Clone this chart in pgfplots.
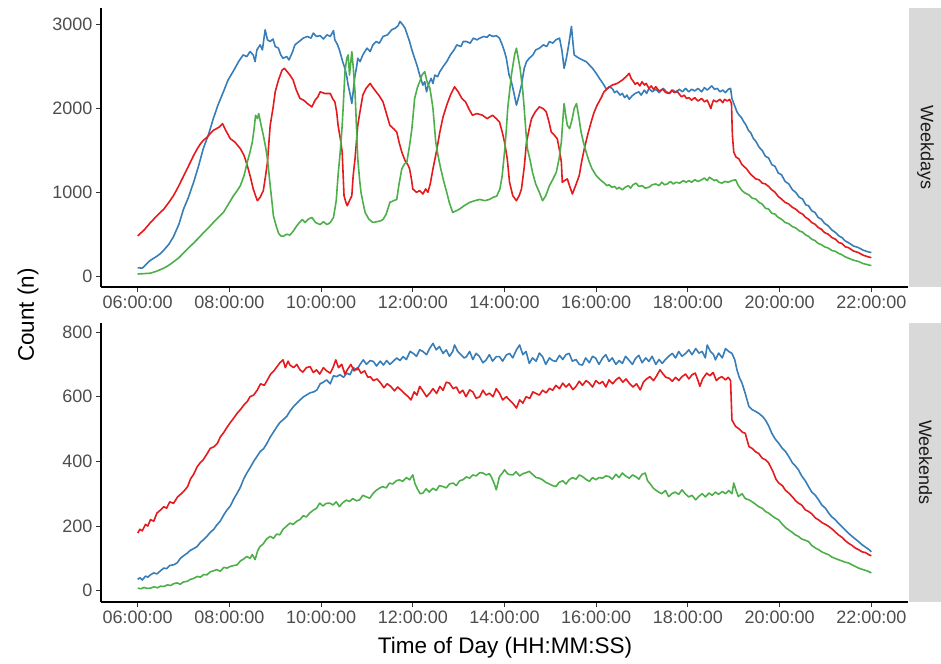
\documentclass[border=0pt]{standalone}
\usepackage{pgfplots}
\pgfplotsset{compat=1.18}
\usepackage{fontspec}
\setmainfont{Liberation Sans}
\definecolor{cred}{HTML}{E41A1C}
\definecolor{cblue}{HTML}{377EB8}
\definecolor{cgreen}{HTML}{4DAF4A}
\definecolor{tickgray}{HTML}{4D4D4D}
\definecolor{stripgray}{HTML}{D9D9D9}
\definecolor{striptext}{HTML}{1A1A1A}
\pgfplotsset{
  panel/.style={
    scale only axis, width=807pt, height=279pt,
    xmin=5.2, xmax=22.8,
    axis x line*=bottom, axis y line*=left,
    axis line style={black, line width=1.1pt},
    every tick/.style={draw=black!80, line width=1pt},
    tick align=outside, major tick length=5pt,
    xtick={6,8,...,22},
    xticklabels={06:00:00,08:00:00,10:00:00,12:00:00,14:00:00,16:00:00,18:00:00,20:00:00,22:00:00},
    ticklabel style={font=\fontsize{18}{18}\selectfont, text=tickgray},
    clip=false,
    every axis plot/.append style={line width=1.6pt, line join=round},
  }
}
\begin{document}
\begin{tikzpicture}[x=1pt,y=1pt]
\path[use as bounding box] (0,0) rectangle (941,-663);
% ---------------- Weekdays ----------------
\begin{axis}[panel, at={(101pt,-287pt)}, anchor=south west,
  ymin=-130, ymax=3200, ytick={0,1000,2000,3000}, yticklabels={0,1000,2000,3000}]
\fill[stripgray] ([xshift=1pt]rel axis cs:1,0) rectangle ([xshift=34pt]rel axis cs:1,1);
\node[rotate=-90, text=striptext, font=\fontsize{18}{18}\selectfont] at ([xshift=17.5pt]rel axis cs:1,0.5) {Weekdays};
\addplot[cblue] coordinates {
(6.00,100) (6.10,95) (6.20,150) (6.28,190) (6.40,230) (6.50,270) (6.57,310) (6.68,380) (6.78,470) (6.90,620)
(7.00,800) (7.10,930) (7.22,1120) (7.32,1300) (7.43,1520) (7.55,1700) (7.65,1880) (7.75,2040) (7.87,2200) (7.97,2340)
(8.09,2450) (8.20,2560) (8.30,2640) (8.38,2620) (8.45,2680) (8.52,2640) (8.56,2560) (8.60,2700) (8.67,2760) (8.72,2700)
(8.78,2940) (8.83,2820) (8.89,2800) (8.95,2830) (9.00,2740) (9.07,2720) (9.12,2640) (9.17,2600) (9.25,2620) (9.30,2580)
(9.38,2680) (9.43,2760) (9.52,2800) (9.61,2840) (9.70,2860) (9.78,2840) (9.83,2900) (9.90,2860) (9.98,2870) (10.05,2830)
(10.13,2880) (10.20,2860) (10.27,2930) (10.30,2820) (10.36,2760) (10.41,2680) (10.47,2560) (10.52,2480) (10.56,2380) (10.59,2280)
(10.63,2180) (10.67,2060) (10.70,2200) (10.74,2400) (10.77,2480) (10.80,2600) (10.85,2560) (10.91,2640) (11.00,2720) (11.07,2680)
(11.13,2760) (11.20,2800) (11.27,2780) (11.35,2860) (11.45,2880) (11.54,2940) (11.62,2960) (11.68,2990) (11.72,3040) (11.78,3000)
(11.83,2960) (11.88,2880) (11.93,2800) (11.98,2700) (12.04,2600) (12.10,2500) (12.15,2400) (12.22,2280) (12.26,2320) (12.30,2200)
(12.35,2300) (12.40,2360) (12.44,2300) (12.48,2400) (12.54,2380) (12.59,2440) (12.66,2500) (12.74,2560) (12.82,2640) (12.90,2700)
(12.96,2760) (13.05,2740) (13.10,2800) (13.17,2800) (13.25,2780) (13.32,2840) (13.40,2820) (13.46,2840) (13.55,2860) (13.62,2850)
(13.67,2880) (13.75,2860) (13.82,2870) (13.89,2840) (13.95,2760) (14.00,2680) (14.04,2600) (14.10,2400) (14.15,2320) (14.20,2200)
(14.26,2040) (14.30,2120) (14.37,2280) (14.43,2480) (14.48,2560) (14.54,2600) (14.62,2640) (14.68,2700) (14.76,2720) (14.85,2760)
(14.92,2740) (14.98,2800) (15.05,2780) (15.12,2820) (15.20,2840) (15.25,2700) (15.30,2480) (15.35,2600) (15.40,2760) (15.46,2980)
(15.49,2800) (15.52,2640) (15.57,2620) (15.63,2600) (15.70,2580) (15.78,2560) (15.85,2520) (15.92,2480) (16.00,2420) (16.07,2360)
(16.17,2280) (16.22,2230) (16.28,2260) (16.35,2240) (16.40,2190) (16.45,2210) (16.52,2160) (16.57,2180) (16.62,2130) (16.67,2160)
(16.72,2110) (16.78,2150) (16.85,2180) (16.93,2200) (16.98,2160) (17.05,2220) (17.10,2180) (17.15,2240) (17.22,2200) (17.30,2230)
(17.37,2190) (17.46,2240) (17.53,2200) (17.60,2180) (17.67,2220) (17.74,2190) (17.81,2230) (17.88,2200) (17.95,2240) (18.02,2200)
(18.08,2230) (18.15,2210) (18.22,2240) (18.30,2200) (18.36,2250) (18.42,2220) (18.48,2250) (18.52,2270) (18.58,2230) (18.64,2240)
(18.70,2200) (18.76,2220) (18.82,2190) (18.88,2230) (18.93,2240) (18.96,2120)
(19.07,1960) (19.12,1920) (19.17,1890) (19.22,1840) (19.26,1810) (19.32,1740) (19.37,1710) (19.43,1640) (19.48,1610) (19.55,1540)
(19.62,1500) (19.69,1430) (19.76,1410) (19.83,1330) (19.90,1310) (19.97,1230) (20.04,1210) (20.12,1130) (20.20,1100) (20.28,1030)
(20.35,1000) (20.43,940) (20.50,920) (20.57,850) (20.63,840) (20.70,780) (20.77,760) (20.84,700) (20.91,680) (20.98,630)
(21.06,600) (21.14,550) (21.22,520) (21.29,480) (21.36,460) (21.43,420) (21.50,400) (21.61,360) (21.72,340) (21.82,310)
(21.93,290) (22.00,280)
};
\addplot[cred] coordinates {
(6.00,480) (6.14,550) (6.28,640) (6.42,720) (6.57,800) (6.68,880) (6.78,960) (6.88,1060) (6.97,1160) (7.06,1260)
(7.15,1360) (7.22,1440) (7.30,1520) (7.37,1580) (7.43,1620) (7.52,1660) (7.58,1700) (7.65,1740) (7.72,1760) (7.78,1780)
(7.85,1820) (7.92,1740) (8.02,1640) (8.12,1600) (8.24,1520) (8.32,1440) (8.39,1320) (8.46,1180) (8.52,1040) (8.57,960)
(8.61,900) (8.67,940) (8.74,1020) (8.79,1200) (8.83,1360) (8.86,1580) (8.89,1800) (8.95,2000) (9.00,2200) (9.07,2340)
(9.15,2460) (9.20,2480) (9.26,2440) (9.32,2400) (9.39,2340) (9.46,2220) (9.54,2120) (9.62,2100) (9.70,2060) (9.80,2020)
(9.87,2100) (9.93,2140) (9.98,2200) (10.08,2180) (10.20,2180) (10.25,2120) (10.30,2080) (10.34,1960) (10.37,1800) (10.42,1640)
(10.46,1480) (10.50,960) (10.54,880) (10.57,840) (10.62,900) (10.67,960) (10.70,1200) (10.74,1400) (10.77,1600) (10.80,1800)
(10.86,2000) (10.91,2160) (10.98,2240) (11.07,2300) (11.13,2250) (11.20,2200) (11.27,2150) (11.35,2080) (11.42,1950) (11.50,1800)
(11.58,1760) (11.65,1720) (11.70,1600) (11.76,1480) (11.83,1380) (11.90,1320) (11.93,1280) (11.97,1160) (12.00,1040) (12.08,1000)
(12.15,1020) (12.22,980) (12.28,1040) (12.33,1000) (12.38,1100) (12.44,1280) (12.52,1500) (12.59,1720) (12.66,1900) (12.74,2040)
(12.82,2160) (12.91,2260) (12.99,2200) (13.07,2120) (13.15,2080) (13.22,2000) (13.30,1920) (13.40,1940) (13.52,1920) (13.62,1880)
(13.74,1920) (13.82,1880) (13.89,1840) (13.95,1720) (14.00,1600) (14.06,1400) (14.11,1120) (14.18,960) (14.26,900) (14.32,960)
(14.37,1040) (14.43,1300) (14.48,1600) (14.54,1760) (14.59,1880) (14.67,1960) (14.76,2020) (14.84,2000) (14.91,1960) (14.97,1840)
(15.02,1720) (15.09,1680) (15.15,1640) (15.20,1500) (15.24,1360) (15.26,1120) (15.31,1140) (15.37,1160) (15.43,1060) (15.48,980)
(15.55,1080) (15.63,1200) (15.68,1360) (15.74,1520) (15.82,1700) (15.89,1840) (15.95,1950) (16.02,2040) (16.10,2120) (16.17,2200)
(16.27,2250) (16.35,2280) (16.46,2300) (16.57,2340) (16.65,2380)
(16.72,2420) (16.76,2360) (16.80,2330) (16.85,2290) (16.90,2310) (16.95,2270) (17.00,2320) (17.05,2280) (17.09,2300) (17.15,2240)
(17.20,2270) (17.25,2230) (17.30,2260) (17.37,2210) (17.45,2230) (17.52,2190) (17.59,2180) (17.65,2220) (17.70,2190) (17.76,2210)
(17.80,2180) (17.86,2140) (17.92,2160) (17.97,2120) (18.02,2130) (18.08,2100) (18.15,2130) (18.22,2090) (18.30,2120) (18.36,2080)
(18.42,2100) (18.47,2040) (18.50,2000) (18.53,2060) (18.56,2100) (18.62,2080) (18.70,2110) (18.76,2070) (18.80,2110) (18.86,2090)
(18.91,2110) (18.95,2060) (18.97,1680)
(19.00,1480) (19.05,1420) (19.11,1400) (19.18,1330) (19.28,1280) (19.36,1220) (19.48,1160) (19.55,1150) (19.62,1110) (19.69,1100)
(19.76,1070) (19.83,1030) (19.90,1000) (19.97,950) (20.04,920) (20.12,880) (20.20,860) (20.28,820) (20.35,800) (20.43,760)
(20.50,740) (20.57,700) (20.63,680) (20.70,640) (20.77,620) (20.84,580) (20.91,560) (20.98,520) (21.06,500) (21.14,460)
(21.22,440) (21.29,400) (21.36,390) (21.43,350) (21.50,340) (21.61,300) (21.72,280) (21.82,250) (21.93,230) (22.00,220)
};
\addplot[cgreen] coordinates {
(6.00,25) (6.14,30) (6.28,35) (6.42,60) (6.57,95) (6.68,130) (6.78,170) (6.90,220) (7.00,275) (7.10,330)
(7.22,395) (7.32,450) (7.43,515) (7.55,580) (7.65,640) (7.76,700) (7.87,760) (7.98,860) (8.09,960) (8.17,1020)
(8.24,1080) (8.32,1200) (8.39,1360) (8.45,1480) (8.50,1600) (8.54,1760) (8.57,1920) (8.61,1880) (8.64,1940) (8.67,1860)
(8.70,1780) (8.74,1680) (8.79,1540) (8.83,1400) (8.86,1240) (8.89,1080) (8.93,880) (8.96,720) (9.02,600) (9.07,515)
(9.12,480) (9.17,475) (9.25,500) (9.32,490) (9.39,535) (9.47,600) (9.53,640) (9.59,675) (9.65,640) (9.72,680)
(9.80,700) (9.88,640) (9.98,615) (10.05,650) (10.13,615) (10.20,640) (10.27,700) (10.33,900) (10.37,1200) (10.42,1500)
(10.46,1800) (10.49,2100) (10.52,2440) (10.56,2600) (10.59,2640) (10.62,2400) (10.67,2680) (10.70,2500) (10.74,2200) (10.77,1800)
(10.80,1400) (10.84,1150) (10.87,1000) (10.92,860) (10.96,760) (11.04,680) (11.13,640) (11.22,650) (11.30,660) (11.35,675)
(11.42,740) (11.50,880) (11.58,900) (11.65,915) (11.70,1100) (11.76,1280) (11.82,1340) (11.87,1360) (11.93,1560) (11.98,1760)
(12.04,2120) (12.10,2250) (12.15,2320) (12.20,2400) (12.26,2440) (12.32,2300) (12.37,2250) (12.40,2150) (12.44,2000) (12.47,1800)
(12.50,1600) (12.55,1440) (12.61,1280) (12.68,1120) (12.74,1000) (12.80,870) (12.87,760) (12.95,780) (13.02,800) (13.12,840)
(13.24,880) (13.35,900) (13.46,915) (13.57,900) (13.67,915) (13.75,940) (13.83,955) (13.90,1040) (13.95,1200) (14.00,1480)
(14.04,1750) (14.07,2000) (14.11,2200) (14.15,2400) (14.22,2640) (14.26,2720) (14.30,2600) (14.34,2480) (14.40,2200) (14.43,2000)
(14.47,1700) (14.50,1520) (14.56,1380) (14.61,1240) (14.68,1100) (14.76,1000) (14.83,900) (14.90,960) (14.98,1080) (15.05,1150)
(15.13,1240) (15.19,1400) (15.24,1600) (15.27,1850) (15.30,2060) (15.34,1900) (15.37,1800) (15.42,1760) (15.47,1860) (15.52,2000)
(15.57,2060) (15.62,1900) (15.67,1720) (15.72,1600) (15.78,1480) (15.85,1360) (15.91,1280)
(16.00,1200) (16.07,1160) (16.13,1130) (16.18,1110) (16.23,1080) (16.28,1090) (16.34,1060) (16.40,1070) (16.45,1040) (16.50,1060)
(16.57,1030) (16.63,1060) (16.70,1080) (16.75,1050) (16.80,1090) (16.87,1110) (16.93,1070) (17.00,1080) (17.07,1050) (17.15,1060)
(17.22,1090) (17.30,1100) (17.37,1080) (17.43,1120) (17.49,1090) (17.55,1100) (17.62,1130) (17.68,1100) (17.74,1120) (17.82,1110)
(17.90,1140) (17.96,1120) (18.02,1140) (18.08,1120) (18.15,1150) (18.22,1130) (18.30,1150) (18.36,1170) (18.42,1140) (18.47,1180)
(18.52,1160) (18.58,1140) (18.62,1150) (18.68,1120) (18.74,1110) (18.81,1130) (18.88,1120) (18.96,1140) (19.04,1150)
(19.10,1080) (19.18,1020) (19.25,990) (19.33,970) (19.40,930) (19.48,920) (19.55,880) (19.62,860) (19.69,810) (19.76,800)
(19.83,750) (19.90,740) (19.97,700) (20.04,680) (20.12,640) (20.20,625) (20.28,590) (20.35,575) (20.43,540) (20.50,525)
(20.57,490) (20.63,475) (20.70,440) (20.77,425) (20.84,390) (20.91,375) (20.98,350) (21.06,335) (21.14,305) (21.22,295)
(21.29,270) (21.36,255) (21.43,230) (21.50,215) (21.61,190) (21.72,175) (21.82,150) (21.93,135) (22.00,125)
};
\end{axis}
% ---------------- Weekends ----------------
\begin{axis}[panel, at={(101pt,-602pt)}, anchor=south west,
  ymin=-35, ymax=828, ytick={0,200,400,600,800}, yticklabels={0,200,400,600,800}]
\fill[stripgray] ([xshift=1pt]rel axis cs:1,0) rectangle ([xshift=34pt]rel axis cs:1,1);
\node[rotate=-90, text=striptext, font=\fontsize{18}{18}\selectfont] at ([xshift=17.5pt]rel axis cs:1,0.5) {Weekends};
\addplot[cblue] coordinates {
(6.00,35) (6.05,40) (6.10,33) (6.17,45) (6.22,42) (6.28,49) (6.35,55) (6.42,52) (6.50,62) (6.57,70)
(6.63,68) (6.70,78) (6.78,80) (6.86,86) (6.93,100) (7.00,108) (7.08,116) (7.15,125) (7.22,130) (7.30,137)
(7.37,150) (7.44,158) (7.51,168) (7.58,180) (7.66,190) (7.73,204) (7.80,215) (7.88,235) (7.95,250) (8.02,262)
(8.10,285) (8.17,302) (8.24,320) (8.31,345) (8.38,364) (8.45,380) (8.53,400) (8.60,415) (8.67,430) (8.75,440)
(8.82,456) (8.89,475) (8.96,490) (9.04,508) (9.10,520) (9.18,530) (9.25,539) (9.32,555) (9.40,570) (9.47,580)
(9.54,590) (9.62,600) (9.69,606) (9.76,612) (9.84,615) (9.91,621) (9.98,640) (10.05,645) (10.12,652) (10.20,640)
(10.27,665) (10.34,662) (10.41,668) (10.49,660) (10.56,673) (10.63,668) (10.70,690) (10.78,683) (10.85,700) (10.92,714)
(10.99,700) (11.07,712) (11.14,709) (11.21,695) (11.29,710) (11.36,698) (11.43,712) (11.50,700) (11.57,709) (11.65,720)
(11.72,712) (11.79,724) (11.86,715) (11.94,740) (12.01,734) (12.08,725) (12.15,745) (12.22,740) (12.30,730) (12.37,750)
(12.44,765) (12.51,745) (12.58,755) (12.66,734) (12.73,745) (12.80,725) (12.87,740) (12.91,760) (12.98,740) (13.05,730)
(13.12,720) (13.17,724) (13.24,740) (13.31,715) (13.38,734) (13.45,725) (13.53,705) (13.60,714) (13.67,730) (13.74,710)
(13.82,724) (13.89,724) (13.96,710) (14.04,729) (14.11,734) (14.18,720) (14.26,745) (14.33,760) (14.40,730) (14.47,740)
(14.54,703) (14.61,720) (14.69,710) (14.76,735) (14.83,724) (14.90,700) (14.98,720) (15.05,712) (15.12,709) (15.20,728)
(15.27,715) (15.34,730) (15.41,734) (15.48,710) (15.56,715) (15.63,700) (15.70,698) (15.77,720) (15.85,705) (15.92,725)
(15.99,719) (16.06,700) (16.14,720) (16.21,730) (16.28,709) (16.35,720) (16.43,700) (16.50,712) (16.57,703) (16.64,725)
(16.72,712) (16.79,700) (16.86,719) (16.93,728) (17.00,705) (17.08,720) (17.15,709) (17.22,725) (17.30,700) (17.37,715)
(17.44,703) (17.51,715) (17.58,725) (17.66,734) (17.73,720) (17.80,740) (17.87,725) (17.95,734) (18.02,745) (18.09,730)
(18.17,749) (18.24,735) (18.31,740) (18.38,720) (18.42,760) (18.49,740) (18.56,730) (18.60,714) (18.67,735) (18.75,720)
(18.82,749) (18.89,740) (18.96,734) (19.02,715) (19.07,683) (19.12,660) (19.18,642) (19.25,610) (19.33,570) (19.40,560)
(19.47,555) (19.54,549) (19.62,540) (19.69,528) (19.76,510) (19.83,487) (19.90,470) (19.98,456) (20.06,440) (20.13,430)
(20.20,415) (20.28,395) (20.35,385) (20.41,374) (20.48,355) (20.56,340) (20.63,322) (20.70,305) (20.78,295) (20.85,281)
(20.92,265) (21.00,255) (21.07,240) (21.14,228) (21.21,220) (21.28,209) (21.36,198) (21.43,188) (21.50,178) (21.58,168)
(21.65,160) (21.72,152) (21.80,142) (21.87,135) (21.95,127) (22.00,120)
};
\addplot[cred] coordinates {
(6.00,178) (6.05,190) (6.10,185) (6.17,205) (6.22,200) (6.28,220) (6.35,215) (6.42,240) (6.50,250) (6.57,260)
(6.63,255) (6.70,275) (6.78,270) (6.87,290) (6.95,300) (7.02,310) (7.09,322) (7.15,345) (7.22,360) (7.30,384)
(7.36,395) (7.43,405) (7.52,425) (7.58,440) (7.66,445) (7.74,456) (7.80,475) (7.88,490) (7.96,508) (8.02,520)
(8.10,535) (8.17,549) (8.24,560) (8.32,575) (8.39,585) (8.45,600) (8.53,605) (8.61,621) (8.68,640) (8.76,635)
(8.83,652) (8.90,670) (8.97,680) (9.04,693) (9.10,705) (9.17,714) (9.22,690) (9.28,710) (9.32,698) (9.40,690)
(9.47,700) (9.54,683) (9.60,676) (9.68,690) (9.76,693) (9.83,675) (9.90,683) (9.97,670) (10.05,690) (10.12,680)
(10.20,673) (10.26,690) (10.32,714) (10.38,690) (10.45,700) (10.52,670) (10.57,683) (10.65,700) (10.72,680) (10.80,690)
(10.87,673) (10.95,680) (11.02,660) (11.07,662) (11.14,650) (11.22,655) (11.30,642) (11.37,628) (11.44,640) (11.52,632)
(11.60,618) (11.67,630) (11.74,621) (11.82,610) (11.90,600) (11.96,590) (12.03,615) (12.09,605) (12.15,632) (12.22,618)
(12.30,600) (12.37,611) (12.44,625) (12.52,610) (12.59,632) (12.66,620) (12.73,645) (12.80,642) (12.88,625) (12.95,630)
(13.02,611) (13.09,620) (13.16,600) (13.24,621) (13.31,615) (13.38,595) (13.46,600) (13.53,620) (13.60,605) (13.67,611)
(13.75,600) (13.82,625) (13.89,611) (13.96,590) (14.04,600) (14.11,590) (14.18,580) (14.26,565) (14.33,590) (14.40,580)
(14.47,600) (14.55,595) (14.62,615) (14.69,610) (14.76,605) (14.83,620) (14.91,612) (14.98,626) (15.05,620) (15.12,635)
(15.20,625) (15.27,642) (15.34,630) (15.41,640) (15.49,622) (15.56,632) (15.63,648) (15.70,635) (15.78,650) (15.85,642)
(15.92,630) (15.99,650) (16.07,640) (16.14,647) (16.21,630) (16.28,652) (16.36,640) (16.43,652) (16.50,660) (16.58,645)
(16.65,655) (16.72,642) (16.80,630) (16.88,640) (16.96,621) (17.03,645) (17.10,655) (17.17,662) (17.25,650) (17.32,665)
(17.39,683) (17.46,670) (17.52,660) (17.59,657) (17.66,648) (17.73,660) (17.80,650) (17.87,662) (17.95,670) (18.02,655)
(18.09,668) (18.16,673) (18.22,650) (18.26,632) (18.32,655) (18.41,673) (18.48,665) (18.55,675) (18.62,650) (18.67,657)
(18.74,662) (18.82,652) (18.88,660) (18.93,650) (18.96,528) (19.04,508) (19.12,500) (19.19,490) (19.25,487) (19.33,446)
(19.40,440) (19.47,430) (19.54,425) (19.62,410) (19.69,405) (19.76,395) (19.85,370) (19.92,345) (19.98,333) (20.06,325)
(20.13,310) (20.20,302) (20.28,290) (20.35,278) (20.41,271) (20.48,265) (20.56,250) (20.63,245) (20.70,238) (20.78,225)
(20.85,219) (20.93,210) (21.00,205) (21.07,199) (21.15,190) (21.21,182) (21.28,173) (21.36,165) (21.43,155) (21.50,147)
(21.58,140) (21.65,132) (21.72,127) (21.80,120) (21.87,118) (21.95,111) (22.00,108)
};
\addplot[cgreen] coordinates {
(6.00,8) (6.07,6) (6.14,10) (6.21,7) (6.28,8) (6.36,12) (6.43,9) (6.50,14) (6.57,13) (6.65,18)
(6.72,16) (6.79,22) (6.86,24) (6.93,20) (7.00,27) (7.08,29) (7.15,35) (7.22,38) (7.30,44) (7.37,42)
(7.44,50) (7.51,49) (7.58,58) (7.66,62) (7.73,65) (7.80,60) (7.88,72) (7.95,70) (8.02,75) (8.10,78)
(8.17,80) (8.24,92) (8.31,98) (8.38,106) (8.45,100) (8.50,112) (8.56,96) (8.62,125) (8.67,137) (8.74,145)
(8.81,160) (8.89,168) (8.96,162) (9.03,175) (9.10,173) (9.17,190) (9.25,200) (9.32,209) (9.39,205) (9.47,215)
(9.54,220) (9.61,232) (9.68,228) (9.75,240) (9.82,248) (9.90,255) (9.97,271) (10.04,262) (10.11,270) (10.19,271)
(10.26,265) (10.33,275) (10.40,260) (10.47,272) (10.55,280) (10.62,276) (10.69,285) (10.77,278) (10.84,281) (10.91,295)
(10.99,290) (11.06,286) (11.13,300) (11.20,310) (11.27,317) (11.34,322) (11.42,318) (11.49,333) (11.56,330) (11.64,340)
(11.71,343) (11.78,338) (11.86,350) (11.93,343) (12.00,358) (12.05,330) (12.10,315) (12.16,300) (12.22,302) (12.29,315)
(12.36,305) (12.44,317) (12.51,310) (12.58,325) (12.66,322) (12.73,318) (12.80,330) (12.88,333) (12.95,325) (13.02,340)
(13.09,343) (13.17,352) (13.24,348) (13.31,358) (13.38,355) (13.46,365) (13.53,364) (13.60,358) (13.67,362) (13.71,353)
(13.78,330) (13.82,312) (13.89,353) (13.96,365) (14.00,374) (14.08,360) (14.18,358) (14.25,368) (14.33,355) (14.40,362)
(14.47,365) (14.54,369) (14.61,360) (14.69,350) (14.76,348) (14.83,343) (14.90,335) (14.98,330) (15.05,325) (15.12,322)
(15.19,335) (15.27,340) (15.34,330) (15.41,343) (15.48,350) (15.56,345) (15.63,358) (15.70,353) (15.77,345) (15.85,338)
(15.92,350) (15.99,343) (16.06,350) (16.14,348) (16.21,355) (16.28,353) (16.35,345) (16.43,360) (16.50,350) (16.57,364)
(16.64,355) (16.72,348) (16.79,358) (16.86,353) (16.93,345) (17.00,360) (17.07,364) (17.12,340) (17.18,330) (17.24,318)
(17.29,312) (17.36,305) (17.43,300) (17.51,310) (17.58,291) (17.65,300) (17.72,305) (17.80,298) (17.87,312) (17.94,300)
(18.02,290) (18.09,295) (18.17,281) (18.24,292) (18.31,300) (18.38,290) (18.46,302) (18.53,295) (18.60,305) (18.67,298)
(18.75,307) (18.82,300) (18.89,310) (18.96,300) (19.00,333) (19.05,310) (19.10,291) (19.18,300) (19.25,285) (19.33,281)
(19.40,275) (19.47,268) (19.54,260) (19.62,255) (19.69,245) (19.76,240) (19.83,232) (19.90,225) (19.98,219) (20.06,205)
(20.13,195) (20.20,188) (20.28,180) (20.35,172) (20.41,168) (20.48,160) (20.56,156) (20.63,152) (20.70,140) (20.78,132)
(20.85,127) (20.92,120) (21.00,115) (21.07,111) (21.14,104) (21.21,100) (21.28,96) (21.36,92) (21.43,88) (21.50,86)
(21.58,80) (21.65,75) (21.72,70) (21.80,66) (21.87,63) (21.93,60) (22.00,55)
};
\end{axis}
\node[rotate=90, font=\fontsize{22.5}{22.5}\selectfont] at (28,-315) {Count (n)};
\node[font=\fontsize{22.5}{22.5}\selectfont] at (505,-648) {Time of Day (HH:MM:SS)};
\end{tikzpicture}
\end{document}
